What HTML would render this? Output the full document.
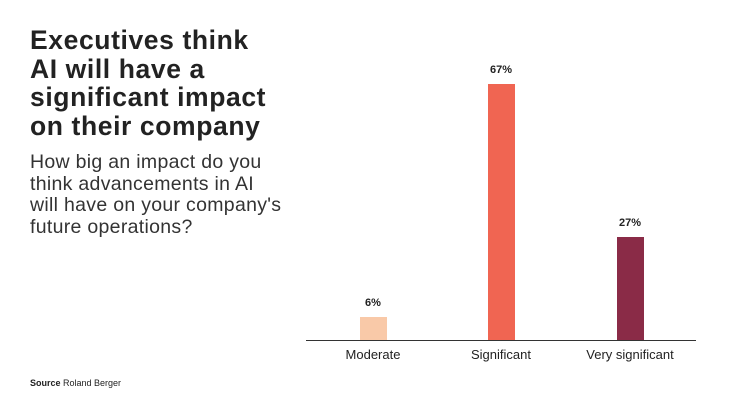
<!DOCTYPE html>
<html><head><style>
body{margin:0;width:746px;height:419px;background:#fff;position:relative;overflow:hidden;font-family:"Liberation Sans",sans-serif;color:#222}
.t{position:absolute;left:30px;top:26px;font-size:26.5px;font-weight:bold;line-height:28.5px;letter-spacing:0.6px}
.s{position:absolute;left:30px;top:152px;font-size:19.5px;line-height:21.5px;color:#333;letter-spacing:0.3px}
.bar{position:absolute;width:27px}
.v{position:absolute;font-size:11px;font-weight:bold;width:60px;text-align:center}
.c{position:absolute;font-size:13px;width:140px;text-align:center;top:347px;color:#222}
</style></head><body>
<div class="t">Executives think<br>AI will have a<br>significant impact<br>on their company</div>
<div class="s">How big an impact do you<br>think advancements in AI<br>will have on your company's<br>future operations?</div>
<div style="position:absolute;left:306px;top:340px;width:390px;height:1px;background:#333"></div>
<div class="bar" style="left:360px;top:317px;height:23px;background:#f9c9a8"></div>
<div class="bar" style="left:488px;top:84px;height:256px;background:#f06552"></div>
<div class="bar" style="left:617px;top:237px;height:103px;background:#8a2b47"></div>
<div class="v" style="left:343px;top:297px">6%</div>
<div class="v" style="left:471px;top:64px">67%</div>
<div class="v" style="left:600px;top:217px">27%</div>
<div class="c" style="left:303px">Moderate</div>
<div class="c" style="left:431px">Significant</div>
<div class="c" style="left:560px">Very significant</div>
<div style="position:absolute;left:30px;top:378px;font-size:9px"><b>Source</b> Roland Berger</div>
</body></html>
